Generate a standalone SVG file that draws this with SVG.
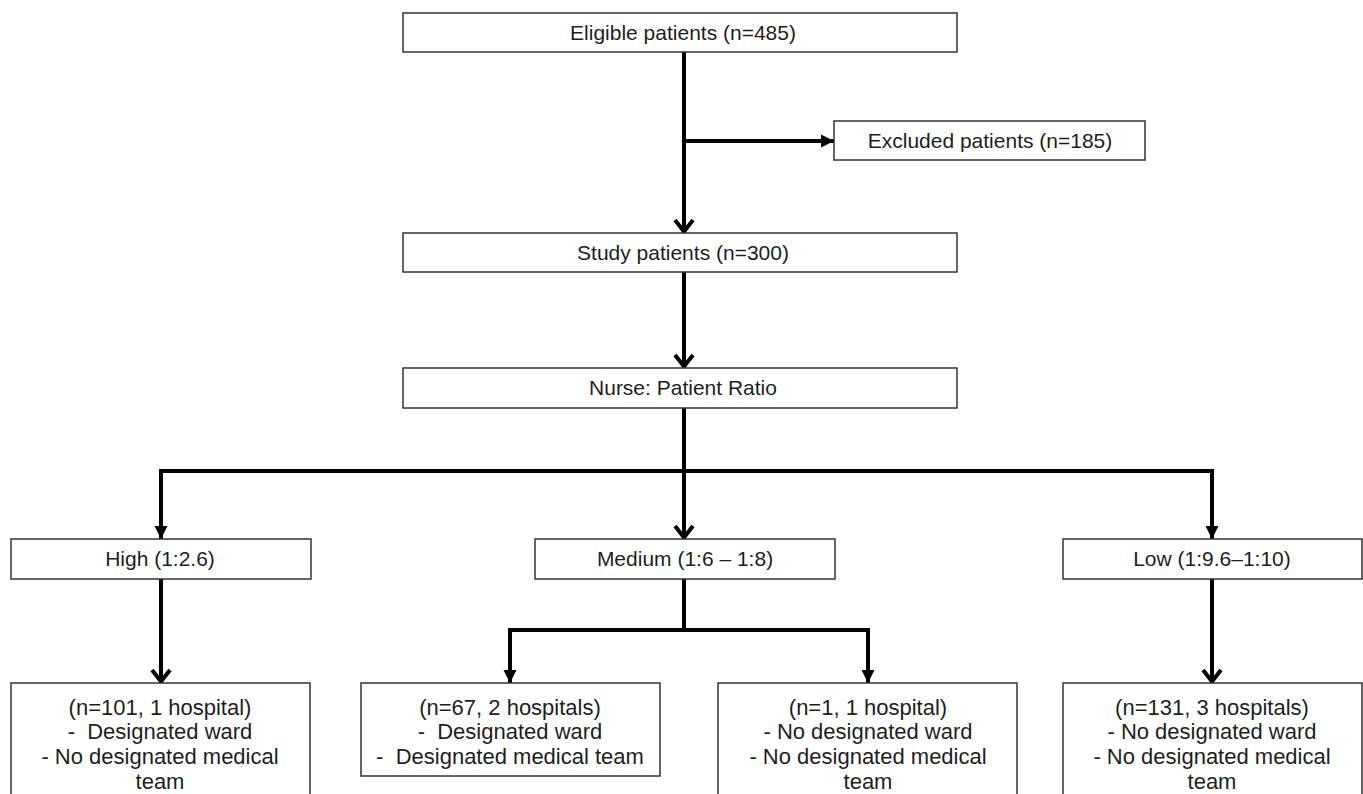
<svg xmlns="http://www.w3.org/2000/svg" width="1363" height="794" viewBox="0 0 1363 794">
<style>
.box{fill:#fff;stroke:#333;stroke-width:1.5}
.t{font-family:"Liberation Sans",Arial,sans-serif;font-size:21px;fill:#1e1e1e;text-anchor:middle}
.b{font-family:"Liberation Sans",Arial,sans-serif;font-size:22px;fill:#1e1e1e;text-anchor:middle}
.c{fill:none;stroke:#000;stroke-width:4;stroke-linejoin:miter}
</style>
<defs>
<marker id="v" markerUnits="userSpaceOnUse" viewBox="-18 -12 22 24" refX="0" refY="0" markerWidth="22" markerHeight="24" orient="auto" overflow="visible">
<path d="M-13,-9 L-1.5,0 L-13,9" fill="none" stroke="#000" stroke-width="4" stroke-linejoin="miter"/>
</marker>
<marker id="f" markerUnits="userSpaceOnUse" viewBox="-16 -8 18 16" refX="0" refY="0" markerWidth="18" markerHeight="16" orient="auto-start-reverse" overflow="visible">
<path d="M-13,-6.5 L0,0 L-13,6.5 Z" fill="#000"/>
</marker>
</defs>
<rect width="1363" height="794" fill="#fff"/>
<g id="connectors">
<line class="c" x1="684" y1="52" x2="684" y2="233" marker-end="url(#v)"/>
<line class="c" x1="684" y1="141" x2="834" y2="141" marker-end="url(#f)"/>
<line class="c" x1="684" y1="272" x2="684" y2="368" marker-end="url(#v)"/>
<line class="c" x1="684" y1="408" x2="684" y2="539" marker-end="url(#v)"/>
<polyline class="c" points="161,539 161,471 1212,471 1212,539" marker-start="url(#f)" marker-end="url(#f)"/>
<line class="c" x1="161" y1="579" x2="161" y2="683" marker-end="url(#v)"/>
<line class="c" x1="684" y1="579" x2="684" y2="630"/>
<polyline class="c" points="510,683 510,630 868,630 868,683" marker-start="url(#f)" marker-end="url(#f)"/>
<line class="c" x1="1212" y1="579" x2="1212" y2="683" marker-end="url(#v)"/>
</g>
<g id="eligible"><rect class="box" x="403" y="13" width="554" height="39"/><text class="t" x="683" y="40">Eligible patients (n=485)</text></g>
<g id="excluded"><rect class="box" x="834" y="121" width="311" height="39"/><text class="t" x="990" y="148">Excluded patients (n=185)</text></g>
<g id="study"><rect class="box" x="403" y="233" width="554" height="39"/><text class="t" x="683" y="260">Study patients (n=300)</text></g>
<g id="nurse"><rect class="box" x="403" y="368" width="554" height="40"/><text class="t" x="683" y="395">Nurse: Patient Ratio</text></g>
<g id="high"><rect class="box" x="11" y="539" width="300" height="40"/><text class="t" x="160" y="566">High (1:2.6)</text></g>
<g id="medium"><rect class="box" x="535" y="539" width="300" height="40"/><text class="t" x="685" y="566">Medium (1:6 – 1:8)</text></g>
<g id="low"><rect class="box" x="1063" y="539" width="299" height="40"/><text class="t" x="1212" y="566">Low (1:9.6–1:10)</text></g>
<g id="group1"><rect class="box" x="11" y="683" width="299" height="130"/>
<text class="b" x="160" y="715">(n=101, 1 hospital)</text>
<text class="b" x="160" y="739" xml:space="preserve">-  Designated ward</text>
<text class="b" x="160" y="764">- No designated medical</text>
<text class="b" x="160" y="789">team</text></g>
<g id="group2"><rect class="box" x="361" y="683" width="299" height="93"/>
<text class="b" x="510" y="715">(n=67, 2 hospitals)</text>
<text class="b" x="510" y="739" xml:space="preserve">-  Designated ward</text>
<text class="b" x="510" y="764" xml:space="preserve">-  Designated medical team</text></g>
<g id="group3"><rect class="box" x="718" y="683" width="299" height="130"/>
<text class="b" x="868" y="715">(n=1, 1 hospital)</text>
<text class="b" x="868" y="739">- No designated ward</text>
<text class="b" x="868" y="764">- No designated medical</text>
<text class="b" x="868" y="789">team</text></g>
<g id="group4"><rect class="box" x="1063" y="683" width="299" height="130"/>
<text class="b" x="1212" y="715">(n=131, 3 hospitals)</text>
<text class="b" x="1212" y="739">- No designated ward</text>
<text class="b" x="1212" y="764">- No designated medical</text>
<text class="b" x="1212" y="789">team</text></g>
</svg>
